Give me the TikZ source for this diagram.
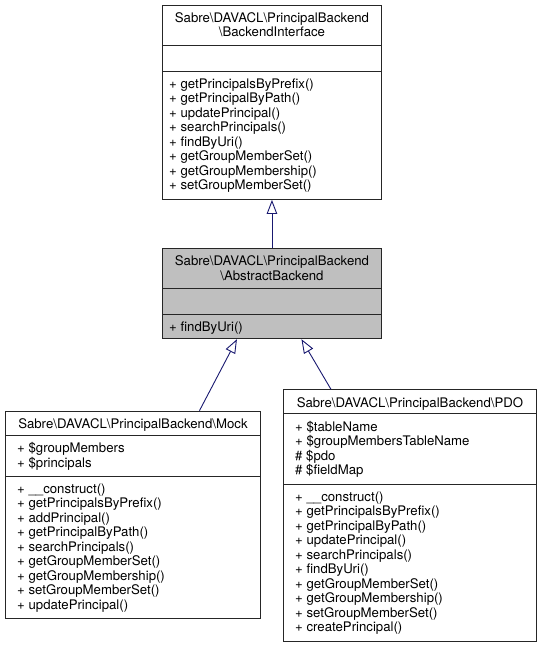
\documentclass[tikz,border=0pt]{standalone}
\usepackage{fontspec}
\setmainfont{TeX Gyre Heros}
\usepackage{xcolor}
\usetikzlibrary{arrows.meta}

\definecolor{edgeblue}{HTML}{191970}
\definecolor{boxgray}{HTML}{BFBFBF}
\newcommand{\classfont}{\fontsize{13.2}{14.5}\selectfont}

\begin{document}
\begin{tikzpicture}[x=1pt,y=-1pt]
        \def\bs{\textbackslash}
        \def\ns{Sabre\bs DAVACL\bs PrincipalBackend}

        \tikzset{
           classbox/.style={draw=black!85, line width=0.9pt, fill=white, anchor=north west, inner sep=0pt},
           classname/.style={anchor=north, align=center, inner sep=0pt, font=\classfont, execute at begin node=\strut},
           members/.style={anchor=north west, align=left, inner sep=0pt, font=\classfont, execute at begin node=\strut},
           divider/.style={draw=black!85, line width=0.9pt},
           inherit/.style={draw=edgeblue, line width=0.9pt, -{Triangle[open, length=14pt, width=10.5pt]}}
        }

        \useasboundingbox (0,0) rectangle (541,647);

        % BackendInterface
        \node[classbox, minimum width=219pt, minimum height=194pt] (bi) at (162,5) {};
        \draw[divider] ([yshift=-40.7pt]bi.north west) -- ([yshift=-40.7pt]bi.north east);
        \draw[divider] ([yshift=-66pt]bi.north west) -- ([yshift=-66pt]bi.north east);
        \node[classname] (bi-name) at ([yshift=-7.35pt]bi.north) {\ns\\\bs BackendInterface};
        \node[members] (bi-ops) at ([xshift=7pt,yshift=-73.35pt]bi.north west)
             {+ getPrincipalsByPrefix()\\+ getPrincipalByPath()\\+ updatePrincipal()\\+ searchPrincipals()\\+ findByUri()\\+ getGroupMemberSet()\\+ getGroupMembership()\\+ setGroupMemberSet()};

        % AbstractBackend
        \node[classbox, fill=boxgray, minimum width=219pt, minimum height=90pt] (ab) at (162,248.3) {};
        \draw[divider] ([yshift=-40pt]ab.north west) -- ([yshift=-40pt]ab.north east);
        \draw[divider] ([yshift=-65.7pt]ab.north west) -- ([yshift=-65.7pt]ab.north east);
        \node[classname] (ab-name) at ([yshift=-7.35pt]ab.north) {\ns\\\bs AbstractBackend};
        \node[members] (ab-ops) at ([xshift=7pt,yshift=-73.05pt]ab.north west) {+ findByUri()};

        % Mock
        \node[classbox, minimum width=255pt, minimum height=207.6pt] (mock) at (5,410.7) {};
        \draw[divider] ([yshift=-24.3pt]mock.north west) -- ([yshift=-24.3pt]mock.north east);
        \draw[divider] ([yshift=-65.3pt]mock.north west) -- ([yshift=-65.3pt]mock.north east);
        \node[classname] (mock-name) at ([yshift=-7.35pt]mock.north) {\ns\bs Mock};
        \node[members] (mock-attr) at ([xshift=12pt,yshift=-31.65pt]mock.north west)
             {+ \$groupMembers\\+ \$principals};
        \node[members] (mock-ops) at ([xshift=12pt,yshift=-72.65pt]mock.north west)
             {+ \_\_construct()\\+ getPrincipalsByPrefix()\\+ addPrincipal()\\+ getPrincipalByPath()\\+ searchPrincipals()\\+ getGroupMemberSet()\\+ getGroupMembership()\\+ setGroupMemberSet()\\+ updatePrincipal()};

        % PDO
        \node[classbox, minimum width=253pt, minimum height=251.7pt] (pdo) at (283,389.3) {};
        \draw[divider] ([yshift=-24pt]pdo.north west) -- ([yshift=-24pt]pdo.north east);
        \draw[divider] ([yshift=-94.7pt]pdo.north west) -- ([yshift=-94.7pt]pdo.north east);
        \node[classname] (pdo-name) at ([yshift=-7.35pt]pdo.north) {\ns\bs PDO};
        \node[members] (pdo-attr) at ([xshift=12pt,yshift=-31.35pt]pdo.north west)
             {+ \$tableName\\+ \$groupMembersTableName\\\# \$pdo\\\# \$fieldMap};
        \node[members] (pdo-ops) at ([xshift=12pt,yshift=-102.05pt]pdo.north west)
             {+ \_\_construct()\\+ getPrincipalsByPrefix()\\+ getPrincipalByPath()\\+ updatePrincipal()\\+ searchPrincipals()\\+ findByUri()\\+ getGroupMemberSet()\\+ getGroupMembership()\\+ setGroupMemberSet()\\+ createPrincipal()};

        % Inheritance
        \draw[inherit] (ab) -- (bi);
        \draw[inherit] ([xshift=66.5pt]mock.north) -- ([xshift=-35pt]ab.south);
        \draw[inherit] ([xshift=-79pt]pdo.north) -- ([xshift=29.5pt]ab.south);
\end{tikzpicture}
\end{document}
